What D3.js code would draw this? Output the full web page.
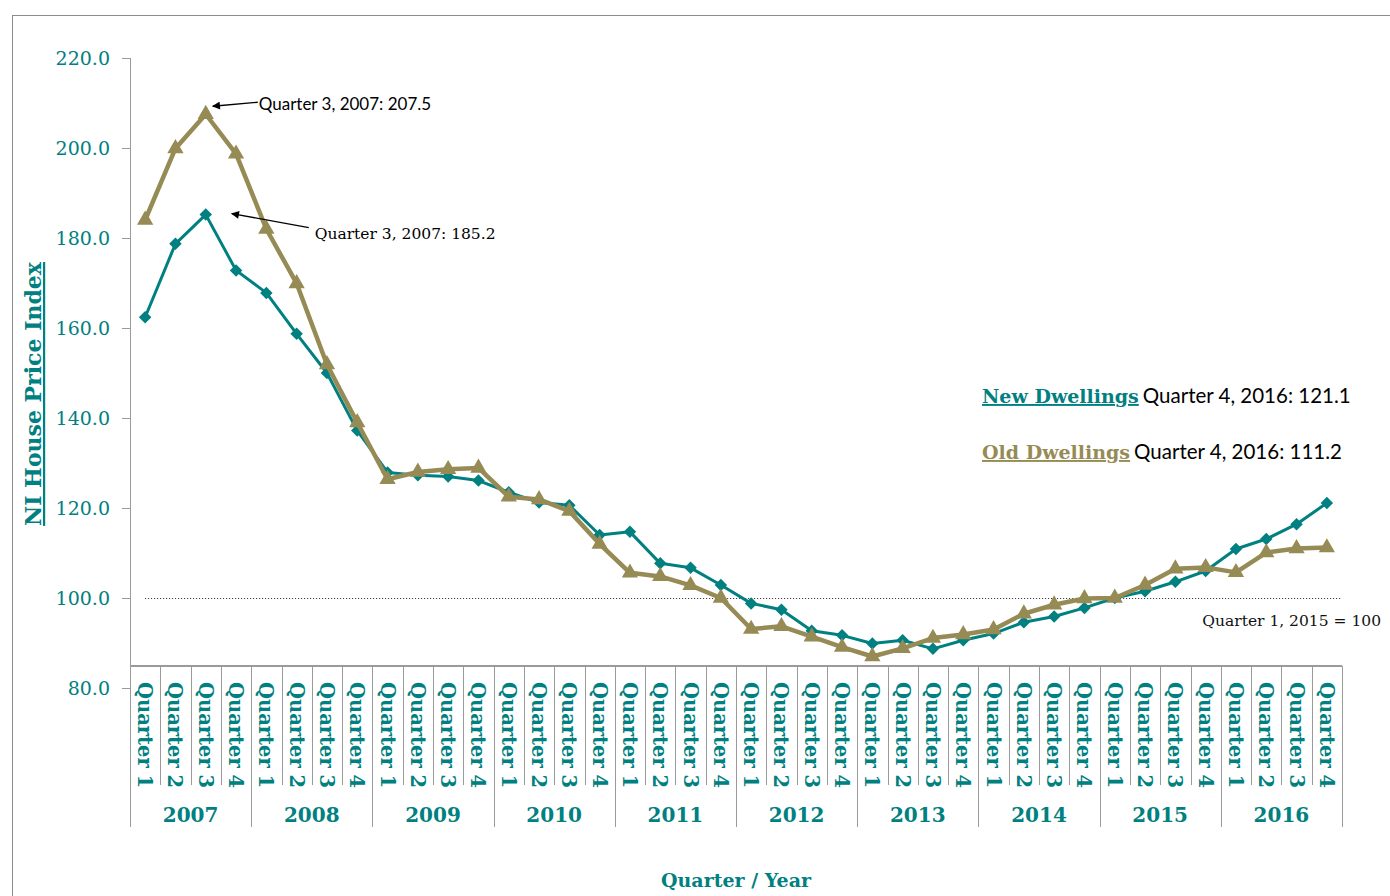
<!DOCTYPE html>
<html>
<head>
<meta charset="utf-8">
<script src="https://cdn.jsdelivr.net/npm/d3@7"></script>
<style>
  html, body { margin: 0; padding: 0; background: #fff; }
  svg { display: block; }
</style>
</head>
<body>
<svg id="chart" width="1390" height="896"></svg>
<script>
// ---------------- data ----------------
const years = ["2007","2008","2009","2010","2011","2012","2013","2014","2015","2016"];
const quarters = ["Quarter 1","Quarter 2","Quarter 3","Quarter 4"];
const newDwellings = [162.4,178.7,185.2,172.8, 167.8,158.7,150.0,137.2, 127.9,127.3,127.0,126.1,
                      123.5,121.2,120.6,114.0, 114.7,107.7,106.7,102.9, 98.8,97.4,92.7,91.7,
                      89.9,90.6,88.7,90.6, 92.1,94.6,95.9,97.8, 100.0,101.5,103.6,106.0,
                      110.9,113.1,116.4,121.1];
const oldDwellings = [184.0,199.9,207.5,198.7, 182.0,169.9,151.9,139.0, 126.4,128.0,128.6,128.9,
                      122.5,121.9,119.3,112.0, 105.6,104.8,102.8,100.0, 93.1,93.7,91.4,89.1,
                      87.0,88.8,91.1,91.9, 93.0,96.5,98.5,99.9, 100.0,102.9,106.5,106.8,
                      105.7,110.1,111.0,111.2];
const yTicks = [80,100,120,140,160,180,200,220];
const baseValue = 100;
const axisCross = 84.9;

// ---------------- layout ----------------
const TEAL = "#008080", OLIVE = "#968B55", GRID = "#9a9a9a";
const serif = "'DejaVu Serif', serif";
const sans = "Lato, 'Open Sans', sans-serif";
const plot = {left: 130, right: 1342, top: 58, bottom: 688};

const svg = d3.select("#chart");

// frame
svg.append("rect").attr("x", 12.5).attr("y", 15.5).attr("width", 1400).attr("height", 900)
  .attr("fill", "none").attr("stroke", "#8c8c8c").attr("stroke-width", 1);

const cats = [];
years.forEach(y => quarters.forEach(q => cats.push(y + " " + q)));

const x = d3.scaleBand().domain(cats).range([plot.left, plot.right]).padding(0);
const y = d3.scaleLinear().domain([80, 220]).range([plot.bottom, plot.top]);
const cx = c => x(c) + x.bandwidth() / 2;

// y axis
const yAxis = d3.axisLeft(y).tickValues(yTicks).tickFormat(d3.format(".1f")).tickSize(8).tickPadding(12);
const gy = svg.append("g").attr("transform", `translate(${plot.left},0)`).call(yAxis);
gy.select(".domain").remove();
gy.selectAll(".tick line").attr("stroke", GRID).attr("shape-rendering", "crispEdges");
gy.selectAll(".tick text").attr("fill", TEAL).style("font-family", serif).style("font-size", "19px");

// y axis line (extends through category area)
const xAxisY = Math.round(y(axisCross));
svg.append("line").attr("x1", plot.left).attr("x2", plot.left)
  .attr("y1", plot.top).attr("y2", 827).attr("stroke", GRID).attr("shape-rendering", "crispEdges");

// category axis line
svg.append("line").attr("x1", plot.left).attr("x2", plot.right)
  .attr("y1", xAxisY).attr("y2", xAxisY).attr("stroke", GRID).attr("stroke-width", 1.2)
  .attr("shape-rendering", "crispEdges");

// quarter separators
const gx = svg.append("g");
cats.forEach((c, i) => {
  const isYear = i % 4 === 0;
  gx.append("line").attr("x1", Math.round(x(c)) + 0.5).attr("x2", Math.round(x(c)) + 0.5)
    .attr("y1", xAxisY).attr("y2", isYear ? 827 : 785).attr("stroke", GRID);
});
gx.append("line").attr("x1", plot.right + 0.5).attr("x2", plot.right + 0.5)
  .attr("y1", xAxisY).attr("y2", 827).attr("stroke", GRID);

// quarter labels (rotated)
cats.forEach((c, i) => {
  gx.append("text")
    .attr("transform", `translate(${cx(c)},${xAxisY + 16}) rotate(90)`)
    .attr("dy", "0.36em")
    .attr("fill", TEAL).style("font-family", serif).style("font-weight", "bold").style("font-size", "19.5px")
    .text(quarters[i % 4]);
});

// year labels
years.forEach((yr, j) => {
  const c0 = cats[j * 4], c3 = cats[j * 4 + 3];
  const mid = (x(c0) + x(c3) + x.bandwidth()) / 2;
  gx.append("text").attr("x", mid).attr("y", 822).attr("text-anchor", "middle")
    .attr("fill", TEAL).style("font-family", serif).style("font-weight", "bold").style("font-size", "20px")
    .text(yr);
});

// axis titles
svg.append("text").attr("x", (plot.left + plot.right) / 2).attr("y", 887).attr("text-anchor", "middle")
  .attr("fill", TEAL).style("font-family", serif).style("font-weight", "bold").style("font-size", "19px")
  .text("Quarter / Year");

svg.append("text").attr("transform", `translate(41,${(265 + 523) / 2}) rotate(-90)`)
  .attr("text-anchor", "middle")
  .attr("fill", TEAL).style("font-family", serif).style("font-weight", "bold").style("font-size", "22px")
  .style("text-decoration", "underline")
  .text("NI House Price Index");

// baseline = 100 dotted line
svg.append("line").attr("x1", cx(cats[0])).attr("x2", plot.right)
  .attr("y1", Math.round(y(baseValue)) + 0.5).attr("y2", Math.round(y(baseValue)) + 0.5)
  .attr("stroke", "#222").attr("stroke-width", 1).attr("stroke-dasharray", "1,2");

svg.append("text").attr("x", 1381).attr("y", 626).attr("text-anchor", "end")
  .attr("fill", "#111").style("font-family", serif).style("font-size", "15.5px")
  .text("Quarter  1, 2015 = 100");

// lines
const line = d3.line().x((d, i) => cx(cats[i])).y(d => y(d));

svg.append("path").datum(newDwellings).attr("d", line)
  .attr("fill", "none").attr("stroke", TEAL).attr("stroke-width", 3).attr("stroke-linejoin", "round");
svg.append("g").selectAll("path").data(newDwellings).join("path")
  .attr("d", d3.symbol().type(d3.symbolSquare).size(78))
  .attr("transform", (d, i) => `translate(${cx(cats[i])},${y(d)}) rotate(45)`)
  .attr("fill", TEAL);

svg.append("path").datum(oldDwellings).attr("d", line)
  .attr("fill", "none").attr("stroke", OLIVE).attr("stroke-width", 4.5).attr("stroke-linejoin", "round");
svg.append("g").selectAll("path").data(oldDwellings).join("path")
  .attr("d", d3.symbol().type(d3.symbolTriangle).size(115))
  .attr("transform", (d, i) => `translate(${cx(cats[i])},${y(d)})`)
  .attr("fill", OLIVE);

// arrow marker
svg.append("defs").append("marker").attr("id", "arrow")
  .attr("viewBox", "0 0 10 10").attr("refX", 9).attr("refY", 5)
  .attr("markerWidth", 9).attr("markerHeight", 8).attr("orient", "auto-start-reverse")
  .attr("markerUnits", "userSpaceOnUse")
  .append("path").attr("d", "M0,0 L10,5 L0,10 z").attr("fill", "#000");

// annotations for peaks
const peakIdx = 2;
const pOld = {x: cx(cats[peakIdx]), y: y(oldDwellings[peakIdx])};
const pNew = {x: cx(cats[peakIdx]), y: y(newDwellings[peakIdx])};

svg.append("line").attr("x1", pOld.x + 52).attr("y1", pOld.y - 12)
  .attr("x2", pOld.x + 7).attr("y2", pOld.y - 8)
  .attr("stroke", "#000").attr("stroke-width", 1.3).attr("marker-end", "url(#arrow)");
svg.append("text").attr("x", pOld.x + 53).attr("y", pOld.y - 4)
  .attr("fill", "#000").style("font-family", sans).style("font-size", "17px")
  .text("Quarter 3, 2007: 207.5");

svg.append("line").attr("x1", pNew.x + 103).attr("y1", pNew.y + 13)
  .attr("x2", pNew.x + 26).attr("y2", pNew.y - 1)
  .attr("stroke", "#000").attr("stroke-width", 1.3).attr("marker-end", "url(#arrow)");
svg.append("text").attr("x", pNew.x + 109).attr("y", pNew.y + 24)
  .attr("fill", "#000").style("font-family", serif).style("font-size", "15.5px")
  .text("Quarter  3, 2007:  185.2");

// legend-like labels
const lastIdx = cats.length - 1;
const legend = [
  {name: "New Dwellings", color: TEAL, val: newDwellings[lastIdx], y: 403},
  {name: "Old Dwellings", color: OLIVE, val: oldDwellings[lastIdx], y: 459}
];
legend.forEach(l => {
  const t = svg.append("text").attr("x", 982).attr("y", l.y);
  t.append("tspan").attr("fill", l.color).style("font-family", serif).style("font-weight", "bold")
    .style("font-size", "19px").style("text-decoration", "underline").text(l.name);
  t.append("tspan").attr("dx", 4).attr("fill", "#000").style("font-family", sans).style("font-size", "20.5px")
    .text(`Quarter 4, 2016: ${l.val.toFixed(1)}`);
});
</script>
</body>
</html>
